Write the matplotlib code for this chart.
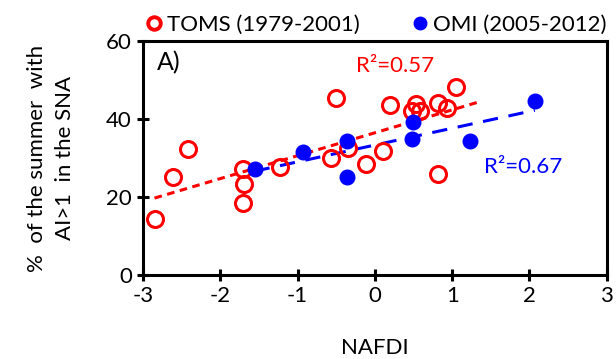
import numpy as np
import matplotlib
matplotlib.use("Agg")
from matplotlib import pyplot as plt

plt.rcParams['font.family'] = ['Lato', 'DejaVu Sans']
plt.rcParams['axes.unicode_minus'] = False

# TOMS (1979-2001), open red circles
toms_x = [-2.85, -2.61, -2.42, -1.70, -1.69, -1.70, -1.23, -0.50, -0.57, -0.35,
          -0.12, 0.11, 0.20, 0.53, 0.48, 0.59, 0.82, 0.93, 1.05, 0.82]
toms_y = [14.3, 25.2, 32.2, 27.1, 23.3, 18.4, 27.8, 45.3, 29.9, 32.5,
          28.5, 31.9, 43.6, 43.8, 42.1, 42.1, 44.2, 42.7, 48.3, 25.9]

# OMI (2005-2012), filled blue dots
omi_x = [-1.555, -0.93, -0.36, -0.36, 0.50, 0.48, 1.23, 2.07]
omi_y = [27.1, 31.4, 34.4, 25.2, 39.1, 34.9, 34.4, 44.6]

toms_r2 = "R²=0.57"
omi_r2 = "R²=0.67"

fig = plt.figure(figsize=(6.16, 3.59), dpi=100)
ax = fig.add_axes([0.232, 0.234, 0.753, 0.652])

# trend lines
toms_fit = np.polyfit(toms_x, toms_y, 1)
xt = np.linspace(min(toms_x), 1.36, 50)
ax.plot(xt, np.polyval(toms_fit, xt), color='red', lw=2.2, ls=(0, (2.5, 1.8)), zorder=2)

omi_fit = np.polyfit(omi_x, omi_y, 1)
xo = np.linspace(min(omi_x), max(omi_x), 50)
ax.plot(xo, np.polyval(omi_fit, xo), color='blue', lw=2.2, ls=(0, (5, 3.5)), zorder=2)

ax.plot(toms_x, toms_y, 'o', ms=11.5, mfc='none', mec='red', mew=2.2,
        label='TOMS (1979-2001)', zorder=3)
ax.plot(omi_x, omi_y, 'o', ms=10.5, color='blue', mec='blue',
        label='OMI (2005-2012)', zorder=4)

ax.set_xlim(-3, 3)
ax.set_ylim(0, 60)
ax.set_xticks([-3, -2, -1, 0, 1, 2, 3])
ax.set_yticks([0, 20, 40, 60])
for s in ax.spines.values():
    s.set_linewidth(2.2)
ax.tick_params(direction='inout', length=8, width=2.2, labelsize=16, pad=4)

ax.set_xlabel('NAFDI', fontsize=16, labelpad=23)
ax.set_ylabel('%  of the summer  with\nAI>1  in the SNA', fontsize=16,
              labelpad=22, linespacing=1.5)

ax.text(-2.82, 54.5, 'A)', fontsize=18, ha='left', va='center')
ax.text(0.26, 53.5, toms_r2, fontsize=16, color='red', ha='center', va='center')
ax.text(1.92, 27.7, omi_r2, fontsize=16, color='blue', ha='center', va='center')

# legend markers drawn smaller than the data markers
h1 = plt.Line2D([], [], marker='o', ls='none', ms=9, mfc='none', mec='red', mew=2.8)
h2 = plt.Line2D([], [], marker='o', ls='none', ms=9, color='blue')
ax.legend([h1, h2], ['TOMS (1979-2001)', 'OMI (2005-2012)'], ncol=2,
          loc='lower center', bbox_to_anchor=(0.5, 0.99), frameon=False,
          fontsize=16, handletextpad=0.1, columnspacing=2.2, handlelength=1.0,
          borderaxespad=0.0)

fig.savefig('out.png', dpi=100)
